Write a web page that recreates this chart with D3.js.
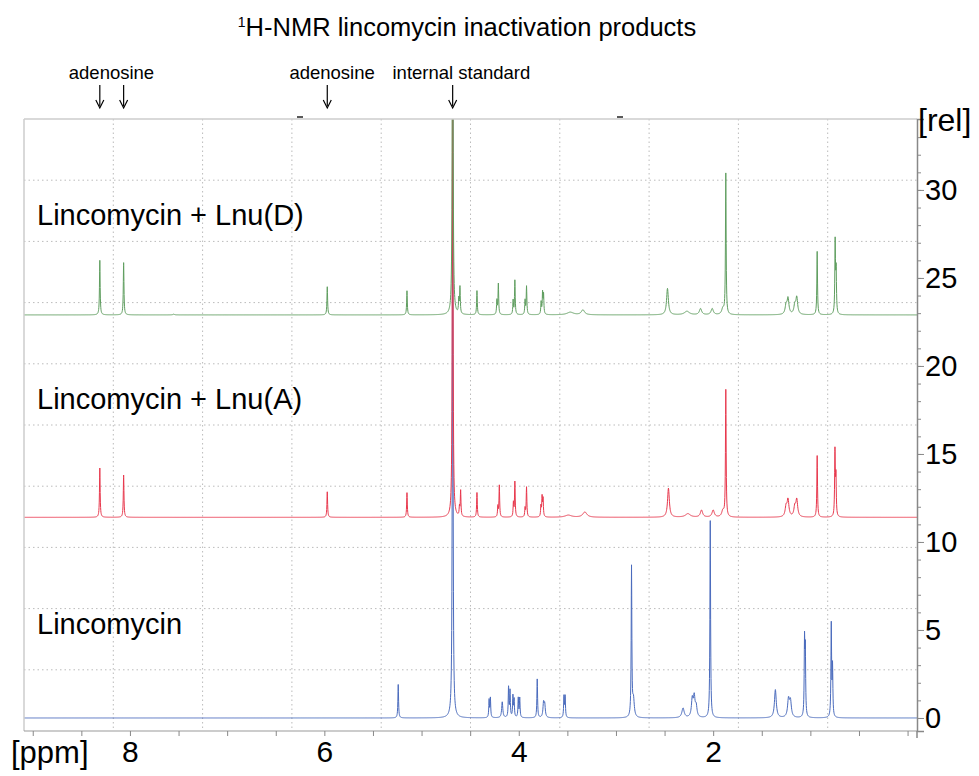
<!DOCTYPE html>
<html>
<head>
<meta charset="utf-8">
<script src="https://cdnjs.cloudflare.com/ajax/libs/d3/7.8.5/d3.min.js"></script>
<style>
  body { margin: 0; background: #fff; font-family: "Liberation Sans", Arial, sans-serif; }
  .grid line { stroke: #bbb; stroke-dasharray: 1.5 3; }
  .axis text { font-family: "Liberation Sans", Arial, sans-serif; fill: #000; }
</style>
</head>
<body>
<div class="chart"></div>
<script>
/* 1H-NMR spectra of lincomycin and its inactivation products, stacked. */

// peaks: [ppm, height (rel), half width (ppm)]
var lincomycinPeaks = [
  [5.24, 1.9, 0.004], [4.68, 36, 0.004], [4.305, 1.0, 0.004], [4.292, 1.1, 0.004],
  [4.17, 0.9, 0.007], [4.105, 1.7, 0.004], [4.09, 1.5, 0.004], [4.06, 1.2, 0.004],
  [4.048, 1.0, 0.004], [4.005, 1.1, 0.004], [3.99, 1.1, 0.004], [3.81, 2.2, 0.004],
  [3.745, 0.8, 0.007], [3.733, 0.7, 0.007], [3.535, 1.2, 0.004], [3.523, 1.2, 0.004],
  [2.84, 8.5, 0.004], [2.82, 1.0, 0.01], [2.31, 0.55, 0.014], [2.215, 1.0, 0.01],
  [2.195, 1.1, 0.01], [2.175, 0.6, 0.01], [2.03, 11.2, 0.004], [1.36, 1.6, 0.011],
  [1.225, 1.0, 0.011], [1.205, 0.9, 0.011], [1.06, 4.2, 0.004], [1.052, 3.6, 0.004],
  [0.785, 5.25, 0.004], [0.772, 2.8, 0.004]
];

var lnuAPeaks = [
  [8.31, 2.8, 0.004], [8.065, 2.4, 0.004], [5.97, 1.45, 0.004], [5.15, 1.4, 0.004],
  [4.68, 30, 0.004], [4.598, 1.45, 0.004], [4.61, 0.5, 0.004], [4.43, 1.4, 0.004],
  [4.20, 1.8, 0.004], [4.215, 0.6, 0.004], [4.04, 2.0, 0.004], [4.055, 0.8, 0.004],
  [3.92, 1.7, 0.004], [3.935, 0.5, 0.004], [3.76, 1.1, 0.004], [3.75, 1.0, 0.004],
  [3.772, 0.6, 0.004], [3.49, 0.12, 0.04], [3.32, 0.3, 0.025], [2.46, 1.65, 0.011],
  [2.26, 0.2, 0.03], [2.12, 0.4, 0.014], [2.0, 0.4, 0.014], [1.90, 0.35, 0.014],
  [1.87, 7.2, 0.004], [1.23, 0.95, 0.011], [1.25, 0.55, 0.011], [1.14, 0.95, 0.011],
  [1.16, 0.55, 0.011], [0.93, 3.5, 0.004], [0.747, 3.7, 0.004], [0.737, 2.2, 0.004]
];

var lnuDPeaks = [
  [8.31, 3.1, 0.004], [8.065, 2.97, 0.004], [7.55, 0.04, 0.01], [5.97, 1.6, 0.004],
  [5.15, 1.37, 0.004], [4.68, 30, 0.004], [4.605, 1.5, 0.004], [4.617, 0.8, 0.004],
  [4.43, 1.37, 0.004], [4.21, 1.75, 0.004], [4.225, 0.8, 0.004], [4.04, 1.95, 0.004],
  [4.058, 0.8, 0.004], [3.92, 1.6, 0.004], [3.935, 0.8, 0.004], [3.755, 1.2, 0.004],
  [3.745, 1.1, 0.004], [3.77, 0.7, 0.004], [3.47, 0.15, 0.04], [3.34, 0.28, 0.02],
  [2.47, 1.5, 0.011], [2.27, 0.2, 0.03], [2.13, 0.35, 0.014], [2.01, 0.35, 0.014],
  [1.90, 0.33, 0.014], [1.87, 8.0, 0.004], [1.23, 0.9, 0.011], [1.25, 0.5, 0.011],
  [1.14, 0.95, 0.011], [1.16, 0.5, 0.011], [0.93, 3.6, 0.004], [0.745, 4.1, 0.004],
  [0.735, 2.4, 0.004]
];

var seriesNames = ["Lincomycin", "Lincomycin + Lnu(A)", "Lincomycin + Lnu(D)"];
var seriesOffsets = [0, 11.4, 22.9];
var seriesColors = ["#4a6bbd", "#e8384d", "#5f9e5f"];
var seriesLabelY = [634, 409, 225];

var yTicks = [0, 5, 10, 15, 20, 25, 30];
var xTickLabels = [8, 6, 4, 2];

var markerPpm = [8.31, 8.065, 5.97, 4.68];
var markerLabels = [
  {text: "adenosine", ppm: 8.19},
  {text: "adenosine", ppm: 5.92},
  {text: "internal standard", ppm: 4.59}
];

drawChart();

function spectrum(peaks, offset) {
  // sample the peak list on a fine ppm grid
  var pts = [];
  var grid = d3.range(-0.12, 9.12, 0.002).concat(peaks.map(function (p) { return p[0]; }));
  grid.sort(function (a, b) { return b - a; });
  grid.forEach(function (x) {
    var v = 0;
    peaks.forEach(function (p) {
      var d = x - p[0];
      v += p[1] * p[2] * p[2] / (d * d + p[2] * p[2]);
    });
    pts.push([x, v + offset]);
  });
  return pts;
}

function drawChart() {

  var width = 979, height = 776;
  var left = 24, right = 917, top = 119, bottom = 731;

  var svg = d3.select(".chart")
      .append("svg")
      .attr("width", width)
      .attr("height", height);

  var x = d3.scaleLinear().domain([9.09, -0.097]).range([left, right]);
  var y = d3.scaleLinear().domain([-0.74, 34.03]).range([bottom, top]);

  // dotted grid, 10 x 10
  var grid = svg.append("g").attr("class", "grid");
  d3.range(1, 10).forEach(function (i) {
    var gx = left + (right - left) * i / 10;
    var gy = top + (bottom - top) * i / 10;
    grid.append("line").attr("x1", gx).attr("x2", gx).attr("y1", top).attr("y2", bottom);
    grid.append("line").attr("x1", left).attr("x2", right).attr("y1", gy).attr("y2", gy);
  });

  svg.append("clipPath").attr("id", "plotclip")
    .append("rect").attr("x", left).attr("y", top).attr("width", right - left).attr("height", bottom - top);

  var line = d3.line()
      .x(function (d) { return x(d[0]); })
      .y(function (d) { return y(d[1]); });

  var allPeaks = [lincomycinPeaks, lnuAPeaks, lnuDPeaks];
  var spectra = svg.append("g").attr("clip-path", "url(#plotclip)");
  allPeaks.forEach(function (peaks, i) {
    spectra.append("path")
      .datum(spectrum(peaks, seriesOffsets[i]))
      .attr("fill", "none")
      .attr("stroke", seriesColors[i])
      .attr("stroke-width", 1)
      .attr("d", line);
  });

  // frame
  svg.append("line").attr("x1", left).attr("x2", right).attr("y1", top).attr("y2", top)
    .attr("stroke", "#ccc").attr("stroke-width", 1.5);
  svg.append("line").attr("x1", left).attr("x2", left).attr("y1", top).attr("y2", bottom)
    .attr("stroke", "#ccc").attr("stroke-width", 1.5);
  svg.append("line").attr("x1", left).attr("x2", right).attr("y1", bottom).attr("y2", bottom)
    .attr("stroke", "#999");

  // small marks above the frame
  [300, 620].forEach(function (mx) {
    svg.append("line").attr("x1", mx - 3).attr("x2", mx + 3).attr("y1", 117).attr("y2", 117)
      .attr("stroke", "#222").attr("stroke-width", 1.5);
  });

  // right intensity axis
  var yAxis = svg.append("g")
      .attr("class", "axis")
      .attr("transform", "translate(" + right + ",0)")
      .call(d3.axisRight(y).tickValues(yTicks).tickSize(7).tickPadding(1));
  yAxis.selectAll("text").style("font-size", "29px");
  yAxis.select(".domain").attr("stroke", "#888").attr("stroke-width", 1.5);
  yAxis.selectAll(".tick line").attr("stroke", "#888");
  svg.append("g")
      .attr("transform", "translate(" + right + ",0)")
      .call(d3.axisRight(y).tickValues(d3.range(0, 34, 1)).tickSize(4).tickFormat(""))
      .call(function (g) { g.select(".domain").remove(); })
      .selectAll("line").attr("stroke", "#888");
  svg.append("line").attr("x1", right).attr("x2", right).attr("y1", bottom).attr("y2", 738)
    .attr("stroke", "#888").attr("stroke-width", 1.5);

  svg.append("text").attr("x", 918).attr("y", 131)
    .style("font-size", "32px").text("[rel]");

  // ppm axis
  var xAxis = svg.append("g")
      .attr("class", "axis")
      .attr("transform", "translate(0," + bottom + ")")
      .call(d3.axisBottom(x).tickValues(d3.range(0, 9.01, 0.5)).tickSize(5).tickPadding(5)
        .tickFormat(function (d) { return xTickLabels.indexOf(d) >= 0 ? d : ""; }));
  xAxis.select(".domain").remove();
  xAxis.selectAll(".tick line").attr("stroke", "#888");
  xAxis.selectAll("text").style("font-size", "30px");

  svg.append("text").attr("x", 11).attr("y", 763)
    .style("font-size", "31px").text("[ppm]");

  // series labels
  seriesNames.forEach(function (name, i) {
    svg.append("text").attr("x", 37).attr("y", seriesLabelY[i])
      .style("font-size", "29px").text(name);
  });

  // title
  var title = svg.append("text").attr("x", 467).attr("y", 36)
    .attr("text-anchor", "middle").style("font-size", "25.5px");
  title.append("tspan").attr("dy", "-9").style("font-size", "14px").text("1");
  title.append("tspan").attr("dy", "9").text("H-NMR lincomycin inactivation products");

  // peak markers
  markerPpm.forEach(function (p) {
    var mx = x(p);
    svg.append("line").attr("x1", mx).attr("x2", mx).attr("y1", 85).attr("y2", 106)
      .attr("stroke", "#000").attr("stroke-width", 1.2);
    svg.append("path")
      .attr("d", "M" + (mx - 4) + ",100 L" + mx + ",108 L" + (mx + 4) + ",100")
      .attr("fill", "none").attr("stroke", "#000").attr("stroke-width", 1.2);
  });
  markerLabels.forEach(function (m) {
    svg.append("text").attr("x", x(m.ppm)).attr("y", 79)
      .attr("text-anchor", "middle").style("font-size", "18.5px").text(m.text);
  });

}
</script>
</body>
</html>
